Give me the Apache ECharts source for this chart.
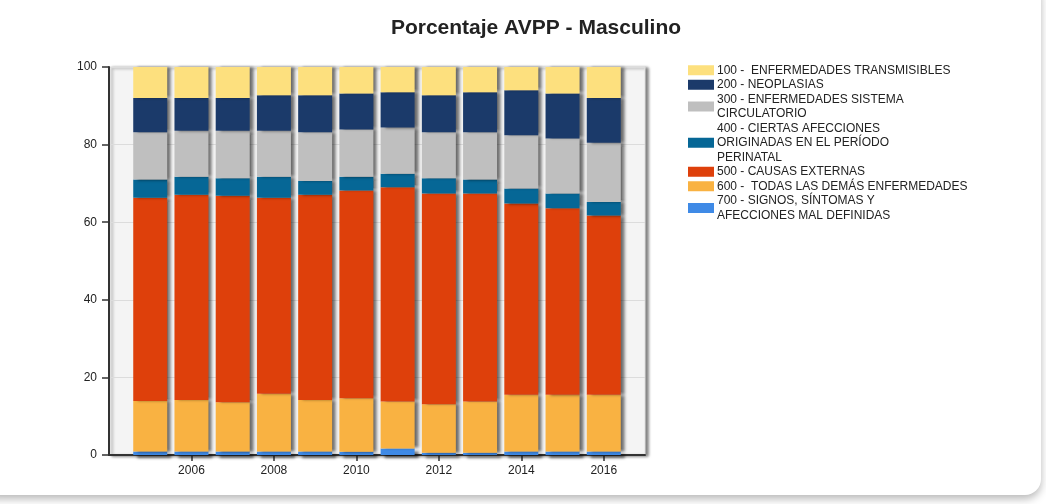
<!DOCTYPE html>
<html>
<head>
<meta charset="utf-8">
<script src="https://cdn.jsdelivr.net/npm/echarts@6/dist/echarts.min.js"></script>
<style>
html,body{margin:0;padding:0;background:#fff;}
#card{position:absolute;left:-20px;top:-20px;width:1061px;height:515px;border-radius:16px;background:#fff;box-shadow:0 4px 9px rgba(0,0,0,0.28);}
#chart{position:absolute;left:0;top:0;width:1046px;height:504px;}
</style>
</head>
<body>
<div id="card"></div>
<div id="chart"></div>
<script>
const years = ['2005','2006','2007','2008','2009','2010','2011','2012','2013','2014','2015','2016'];
const names = [
  '100 -  ENFERMEDADES TRANSMISIBLES',
  '200 - NEOPLASIAS',
  '300 - ENFERMEDADES SISTEMA\nCIRCULATORIO',
  '400 - CIERTAS AFECCIONES\nORIGINADAS EN EL PERÍODO\nPERINATAL',
  '500 - CAUSAS EXTERNAS',
  '600 -  TODAS LAS DEMÁS ENFERMEDADES',
  '700 - SIGNOS, SÍNTOMAS Y\nAFECCIONES MAL DEFINIDAS'
];
const colors = ['#fde07e','#1b3a6a','#bfbfbf','#066796','#de400b','#f9b242','#3f8ae6'];
const v700 = [0.9,0.9,0.9,0.9,0.9,0.85,1.7,0.6,0.6,0.9,0.9,0.9];
const v600 = [13.0,13.3,12.7,14.9,13.3,13.75,12.1,12.5,13.2,14.6,14.6,14.6];
const v500 = [52.4,52.9,53.2,50.5,52.9,53.6,55.2,54.3,53.6,49.3,48.1,46.2];
const v400 = [4.7,4.6,4.5,5.4,3.5,3.5,3.5,3.9,3.6,3.9,3.8,3.5];
const v300 = [12.2,11.9,12.3,11.9,12.6,12.2,11.9,11.9,12.2,13.7,14.2,15.3];
const v200 = [8.8,8.4,8.4,9.1,9.5,9.3,9.1,9.5,10.3,11.6,11.6,11.5];
const v100 = [8.0,8.0,8.0,7.3,7.3,6.8,6.5,7.3,6.5,6.0,6.8,8.0];
const yTicks = [0,20,40,60,80,100];

const axisCats = [''].concat(years, ['']);
const pad = arr => [null].concat(arr, [null]);
const seriesValues = [v100, v200, v300, v400, v500, v600, v700];
const order = [6,5,4,3,2,1,0];
const showLabel = (i, v) => v !== '' && Number(v) % 2 === 0;
const FONT = 'Liberation Sans, Arial, sans-serif';

const series = order.map(k => ({
  name: names[k],
  type: 'bar',
  stack: 'total',
  barWidth: 34,
  data: pad(seriesValues[k]),
  itemStyle: {
    color: colors[k],
    shadowColor: 'rgba(0,0,0,0.55)',
    shadowBlur: 3,
    shadowOffsetX: 4,
    shadowOffsetY: k === 6 ? 3 : 0
  },
  emphasis: {disabled: true}
}));

const chart = echarts.init(document.getElementById('chart'), null, {renderer: 'canvas'});
chart.setOption({
  animation: false,
  backgroundColor: 'transparent',
  title: {
    text: 'Porcentaje AVPP - Masculino',
    left: 536, top: 18, textAlign: 'center', padding: 0,
    textStyle: {fontFamily: FONT, fontSize: 21, fontWeight: 'bold', color: '#222'}
  },
  legend: {
    orient: 'vertical',
    left: 688, top: 63, padding: 0,
    itemWidth: 26, itemHeight: 10, itemGap: 0,
    icon: 'rect',
    data: names,
    selectedMode: false,
    textStyle: {fontFamily: FONT, fontSize: 12, color: '#222', lineHeight: 14.5, padding: [0,0,0,-2]}
  },
  grid: {
    left: 109, right: 401, top: 67, bottom: 49,
    show: true, backgroundColor: '#f4f4f4', borderColor: '#e3e3e3', borderWidth: 1,
    shadowColor: 'rgba(0,0,0,0.5)', shadowBlur: 3, shadowOffsetX: 3, shadowOffsetY: 1
  },
  xAxis: {
    type: 'category',
    data: axisCats,
    boundaryGap: false,
    axisLine: {lineStyle: {color: '#333', width: 2}},
    axisTick: {interval: showLabel, length: 6, lineStyle: {color: '#333', width: 1.5}},
    axisLabel: {interval: showLabel, color: '#222', fontSize: 12, fontFamily: FONT, margin: 10},
    splitLine: {show: false}
  },
  yAxis: {
    type: 'value',
    min: yTicks[0], max: yTicks[yTicks.length - 1], interval: 20,
    axisLine: {show: true, lineStyle: {color: '#333', width: 2}},
    axisTick: {show: true, length: 7, lineStyle: {color: '#333', width: 1.5}},
    axisLabel: {color: '#222', fontSize: 12, fontFamily: FONT, margin: 12},
    splitLine: {show: true, lineStyle: {color: '#dcdcdc', width: 1}}
  },
  series: series
});
</script>
</body>
</html>
